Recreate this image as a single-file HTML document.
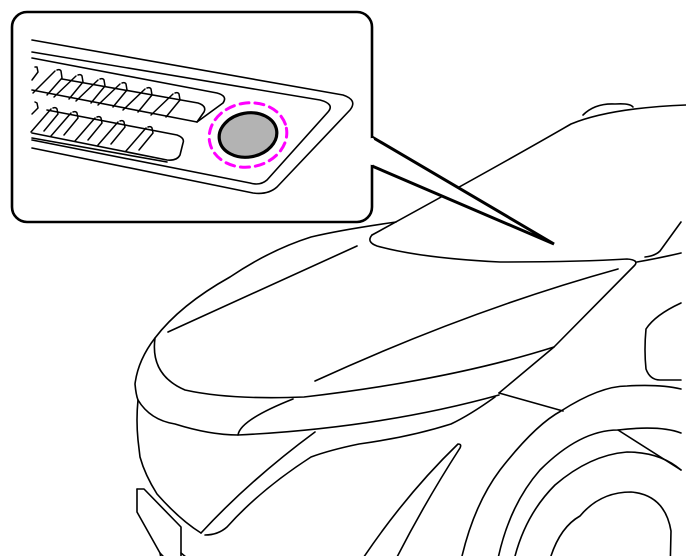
<!DOCTYPE html>
<html><head><meta charset="utf-8"><style>html,body{margin:0;padding:0;background:#fff;width:686px;height:556px;overflow:hidden}</style></head>
<body>
<svg width="686" height="556" viewBox="0 0 686 556" xmlns="http://www.w3.org/2000/svg" fill="none" stroke="#000" stroke-width="1.6" stroke-linecap="round" stroke-linejoin="round">
<!-- car -->
<path d="M681,222 L660,251 Q655,256 645,257"/>
<path d="M637,262 Q660,258 681,253"/>
<path d="M372,235 Q500,165 571,124 Q610,108 686,105"/>
<path d="M583,115 Q595,103 615,104 Q630,103 633,107"/>
<path d="M396,222 Q340,230 311,237 Q270,250 230,277 Q180,305 155,338 Q138,360 135,384 Q136,395 138,400"/>
<path d="M168,332 Q260,290 357,246"/>
<path d="M155,338 Q150,375 185,390 Q230,400 304,397 Q450,380 554,347"/>
<path d="M315,381 Q470,310 618,269"/>
<path d="M372,235 Q366,242 377,246 Q420,258 500,262 Q580,262 627,259 Q640,260 634,266 L554,347 L499,393"/>
<path d="M138,400 Q150,420 175,424 Q210,435 238,435 Q380,428 499,395"/>
<path d="M238,435 Q240,420 293,399"/>
<path d="M499,393 L563,411"/>
<path d="M495,397 Q470,415 451,424 Q410,437 359,444 Q330,450 311,457 Q260,490 227,527 Q218,535 205,535"/>
<path d="M315,432 Q250,480 201,533"/>
<path d="M138,400 Q136,420 138,440 L140,457 Q145,475 157,494 Q180,520 201,533"/>
<path d="M137,489 L144,489 L181,527 L181,575"/>
<path d="M137,489 L137,512 L160,553 L181,575"/>
<path d="M160,553 L164,575"/>
<path d="M181,553 L208,575"/>
<path d="M181,563 L195,575"/>
<path d="M352,575 Q400,500 458,444 Q462,444 460,448 Q420,510 388,575"/>
<path d="M458,575 Q470,510 500,470 Q535,425 561,411 Q600,386 627,386 Q660,384 681,389"/>
<path d="M495,575 Q505,510 540,470 Q580,430 618,430 Q660,425 681,433"/>
<path d="M511,575 Q520,520 555,485 Q590,455 627,452 Q660,452 681,470"/>
<path d="M618,430 L681,470"/>
<path d="M546,575 Q555,530 580,516 Q600,492 631,492 Q665,495 671,531 L670,575"/>
<path d="M681,303 Q655,315 646,329 Q644,350 646,369 Q650,380 660,380 L681,380"/>
<!-- inset -->
<path d="M372,137 L554,244 L372,166 Z" fill="#fff" stroke-width="3" stroke-linejoin="miter"/>
<rect x="12" y="12" width="360" height="210" rx="15" fill="#fff" stroke-width="2.6"/>
<path d="M372,140 L372,163" stroke="#fff" stroke-width="4"/>
<path d="M32,40 L343,95 Q358,100 350,110 L277,187 Q268,195 253,193 L32,148"/>
<path d="M32,52 L320,100 Q335,104 328,112 L267,180 Q260,186 250,183 L32,140"/>
<path d="M32,58 L217,93 Q228,96 223,103 L197,122"/>
<path d="M62,79 L198,103 Q207,106 204,112 L197,122"/>
<path d="M32,90 L197,122"/>
<path d="M47,110 L177,135 Q185,138 183,143 L180,155 Q177,161 167,160 L32,133"/>
<path d="M32,138 L167,162"/>
<g stroke-width="1.5">
<path d="M35,67 L37,67 L38,72 L32,80"/>
<path d="M57,70 Q60,69 61,71 L62,78 L47,95 M55,71 L33,93"/>
<path d="M78,75 Q81,74 82,76 L83,82 L69,99 M76,76 L54,97"/>
<path d="M100,79 Q103,78 104,80 L105,86 L91,103 M98,80 L76,101"/>
<path d="M122,83 Q125,82 126,84 L127,90 L113,107 M120,84 L98,105"/>
<path d="M147,88 Q150,87 151,89 L152,95 L138,112 M145,89 L123,110"/>
<path d="M175,93 Q178,92 179,94 L180,100 L166,117 M173,94 L151,115"/>
<path d="M35,102 L37,103 L38,108 L32,114"/>
<path d="M53,108 Q56,107 57,109 L58,114 L44,131 M51,109 L31,132"/>
<path d="M73,112 Q76,111 77,113 L78,118 L64,135 M71,113 L51,136"/>
<path d="M97,117 Q100,116 101,118 L102,123 L88,140 M95,118 L75,141"/>
<path d="M120,121 Q123,120 124,122 L125,127 L111,144 M118,122 L98,145"/>
<path d="M148,127 Q151,126 152,128 L153,133 L139,150 M146,128 L126,151"/>
</g>
<ellipse cx="248" cy="135" rx="29" ry="22" transform="rotate(-10 248 135)" fill="#b3b3b3" stroke-width="3.2"/>
<ellipse cx="248" cy="135" rx="39" ry="32" transform="rotate(-10 248 135)" stroke="#f0f" stroke-width="3" stroke-dasharray="9 6"/>
</svg>
</body></html>
